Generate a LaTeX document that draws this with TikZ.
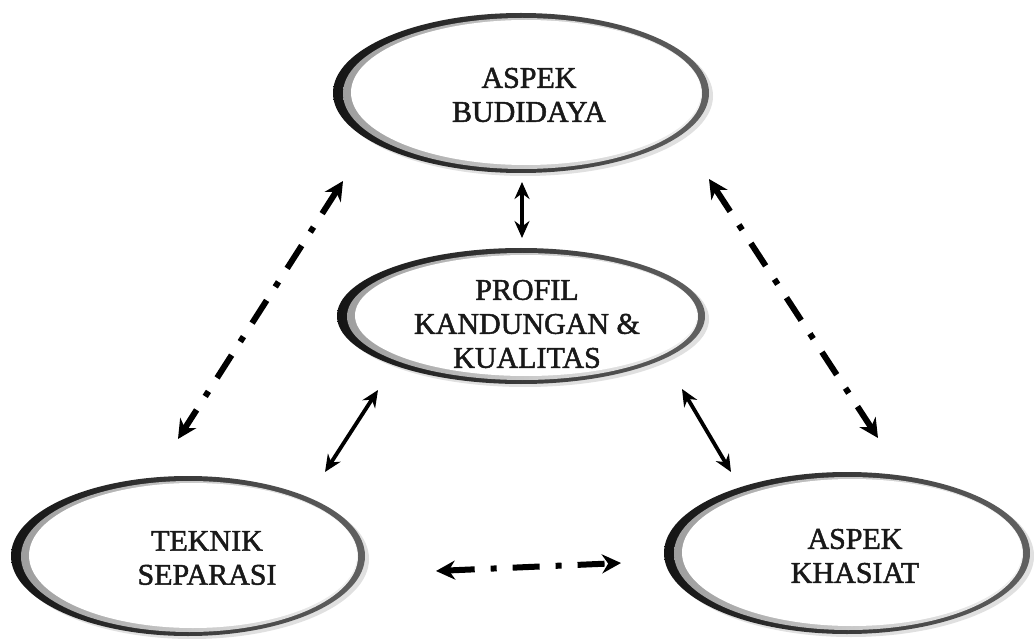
\documentclass[tikz,border=0pt]{standalone}
\usepackage{fontspec}
\setmainfont{Liberation Serif}
\newfontfamily\lblfont[FakeBold=1.6]{Liberation Serif}
\usetikzlibrary{arrows.meta,shapes.geometric}
\newcommand\ringnode[8]{% name, cx, cy, rx, ry, tx, ty, text
  \fill[black!12] (#2+4,#3+3) ellipse [x radius=#4, y radius=#5];
  \shade[left color=black!92, right color=black!62] (#2,#3) ellipse [x radius=#4, y radius=#5];
  \shade[left color=black!38, right color=black!5] (#2+1.5,#3+0.5) ellipse [x radius=#4-8.5, y radius=#5-4.5];
  \fill[white] (#2+5,#3-0.5) ellipse [x radius=#4-13, y radius=#5-7.5];
  \node[lbl] (#1) at (#6,#7) {#8};
}
\begin{document}
\begin{tikzpicture}[x=1pt,y=-1pt,
  lbl/.style={align=center, font=\lblfont\fontsize{30}{34}\selectfont, text=black!90, inner sep=0pt},
  solidarr/.style={line width=3.8pt, {Stealth[length=17pt,width=15pt]}-{Stealth[length=17pt,width=15pt]}},
  dasharr/.style={line width=6pt, dash pattern=on 27pt off 16pt on 6pt off 16pt,
     {Stealth[length=19pt,width=19pt]}-{Stealth[length=19pt,width=19pt]}}
]
\useasboundingbox (0,0) rectangle (1034,639);
\fill[white] (0,0) rectangle (1034,639);

\ringnode{budidaya}{521}{93}{188}{80}{529}{95}{ASPEK\\BUDIDAYA}
\ringnode{profil}{521}{316}{184}{68}{527}{324}{PROFIL\\KANDUNGAN \&\\KUALITAS}
\ringnode{teknik}{188}{556}{177}{80}{207}{558}{TEKNIK\\SEPARASI}
\ringnode{khasiat}{847}{553}{183}{81}{855}{556}{ASPEK\\KHASIAT}

% connector end points
\coordinate (bp1) at (522,182);
\coordinate (bp2) at (522,238);
\coordinate (pt1) at (378,390);
\coordinate (pt2) at (325,472);
\coordinate (pk1) at (682,389);
\coordinate (pk2) at (731,472);
\coordinate (bt1) at (343,181);
\coordinate (bt2) at (178,439);
\coordinate (bk1) at (709,179);
\coordinate (bk2) at (878,438);
\coordinate (tk1) at (436,571);
\coordinate (tk2) at (621,563);

\draw[solidarr] (bp1) -- (bp2);
\draw[solidarr] (pt1) -- (pt2);
\draw[solidarr] (pk1) -- (pk2);
\draw[dasharr] (bt1) -- (bt2);
\draw[dasharr] (bk1) -- (bk2);
\draw[dasharr] (tk1) -- (tk2);
\end{tikzpicture}
\end{document}
